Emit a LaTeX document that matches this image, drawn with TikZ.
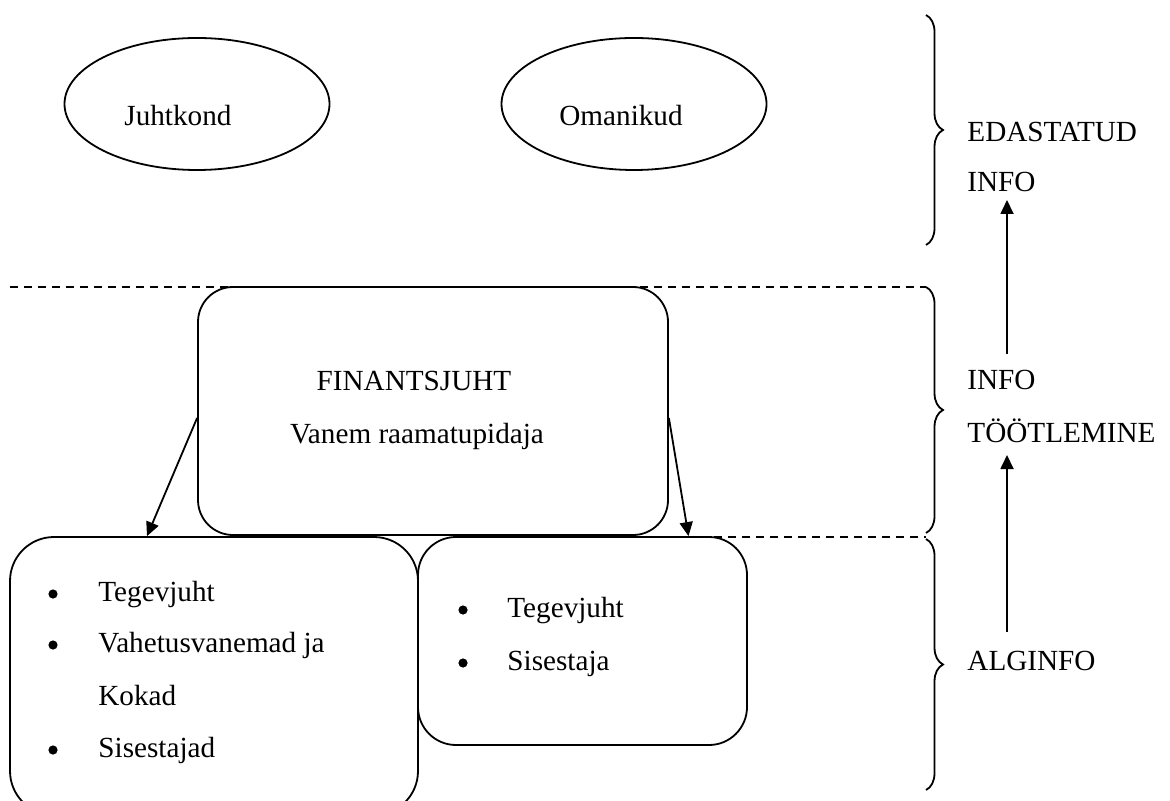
\documentclass[tikz,border=0pt]{standalone}
\usepackage{fontspec}
\setmainfont{Liberation Serif}
\usetikzlibrary{arrows.meta,decorations.pathreplacing,shapes.geometric}
\begin{document}
\begin{tikzpicture}[x=0.5pt,y=-0.5pt,
  every node/.style={font=\fontsize{14.6}{17}\selectfont},
  arr/.style={line width=0.9pt,-{Triangle[length=7pt,width=6.5pt]}},
  oval/.style={draw,ellipse,line width=0.9pt,minimum width=132.5pt,minimum height=66pt,inner sep=0pt},
  rbox/.style={draw,line width=0.9pt,fill=white,rectangle,inner sep=0pt},
  brc/.style={decorate,decoration={brace,amplitude=8.5pt},line width=0.9pt},
  sep/.style={dash pattern=on 4pt off 3pt,line width=0.9pt},
  lbl/.style={anchor=base west,inner sep=0pt},
  ctr/.style={anchor=base,inner sep=0pt},
  dot/.style={circle,fill,inner sep=0pt,minimum size=4.6pt}]
\path[use as bounding box] (0,0) rectangle (1170,801);
\clip (0,0) rectangle (1170,801);

% ellipses
\node[oval] (e1) at (197,104) {};
\node[oval] (e2) at (634,104) {};
\node[lbl] (t1) at (124,126) {Juhtkond};
\node[lbl] (t2) at (559,126) {Omanikud};

% dashed separators
\coordinate (d1a) at (10,287);
\coordinate (d1b) at (926,287);
\coordinate (d2a) at (700,537);
\coordinate (d2b) at (926,537);
\draw[sep] (d1a) -- (d1b);
\draw[sep] (d2a) -- (d2b);

% boxes
\node[rbox,rounded corners=17.5pt,minimum width=235pt,minimum height=124pt] (fin) at (433,411) {};
\node[rbox,rounded corners=22pt,minimum width=204pt,minimum height=139pt] (lb) at (214,676) {};
\node[rbox,rounded corners=19pt,minimum width=164.5pt,minimum height=104pt] (rb) at (582.5,641) {};

\node[ctr] (fa) at (414,391) {FINANTSJUHT};
\node[ctr] (fb) at (417,443) {Vanem raamatupidaja};

% left box list
\node[dot] (b1) at (53,594) {};
\node[lbl] (l1) at (98,601) {Tegevjuht};
\node[dot] (b2) at (53,645) {};
\node[lbl] (l2) at (98,652) {Vahetusvanemad ja};
\node[lbl] (l3) at (98,705) {Kokad};
\node[dot] (b3) at (53,750) {};
\node[lbl] (l4) at (98,757) {Sisestajad};

% right box list
\node[dot] (b4) at (463,610) {};
\node[lbl] (r1) at (507,617) {Tegevjuht};
\node[dot] (b5) at (463,663) {};
\node[lbl] (r2) at (507,670) {Sisestaja};

% arrows from FINANTSJUHT
\draw[arr] ([yshift=-3.5pt]fin.west) -- ([xshift=-33.5pt]lb.north);
\draw[arr] ([yshift=-3.5pt]fin.east) -- ([xshift=53pt]rb.north);

% braces
\draw[brc] (926,15) -- (926,245);
\draw[brc] (926,287) -- (926,533);
\draw[brc] (926,539) -- (926,790);

% right labels
\node[lbl] (edas) at (967,142) {EDASTATUD};
\node[lbl] (info1) at (967,192) {INFO};
\node[lbl] (info2) at (967,390) {INFO};
\node[lbl] (tootl) at (967,442) {TÖÖTLEMINE};
\node[lbl] (algi) at (967,670) {ALGINFO};

\coordinate (u1s) at (1007,354);
\coordinate (u1e) at (1007,200);
\coordinate (u2s) at (1007,632);
\coordinate (u2e) at (1007,455);
\draw[arr] (u1s) -- (u1e);
\draw[arr] (u2s) -- (u2e);
\end{tikzpicture}
\end{document}
